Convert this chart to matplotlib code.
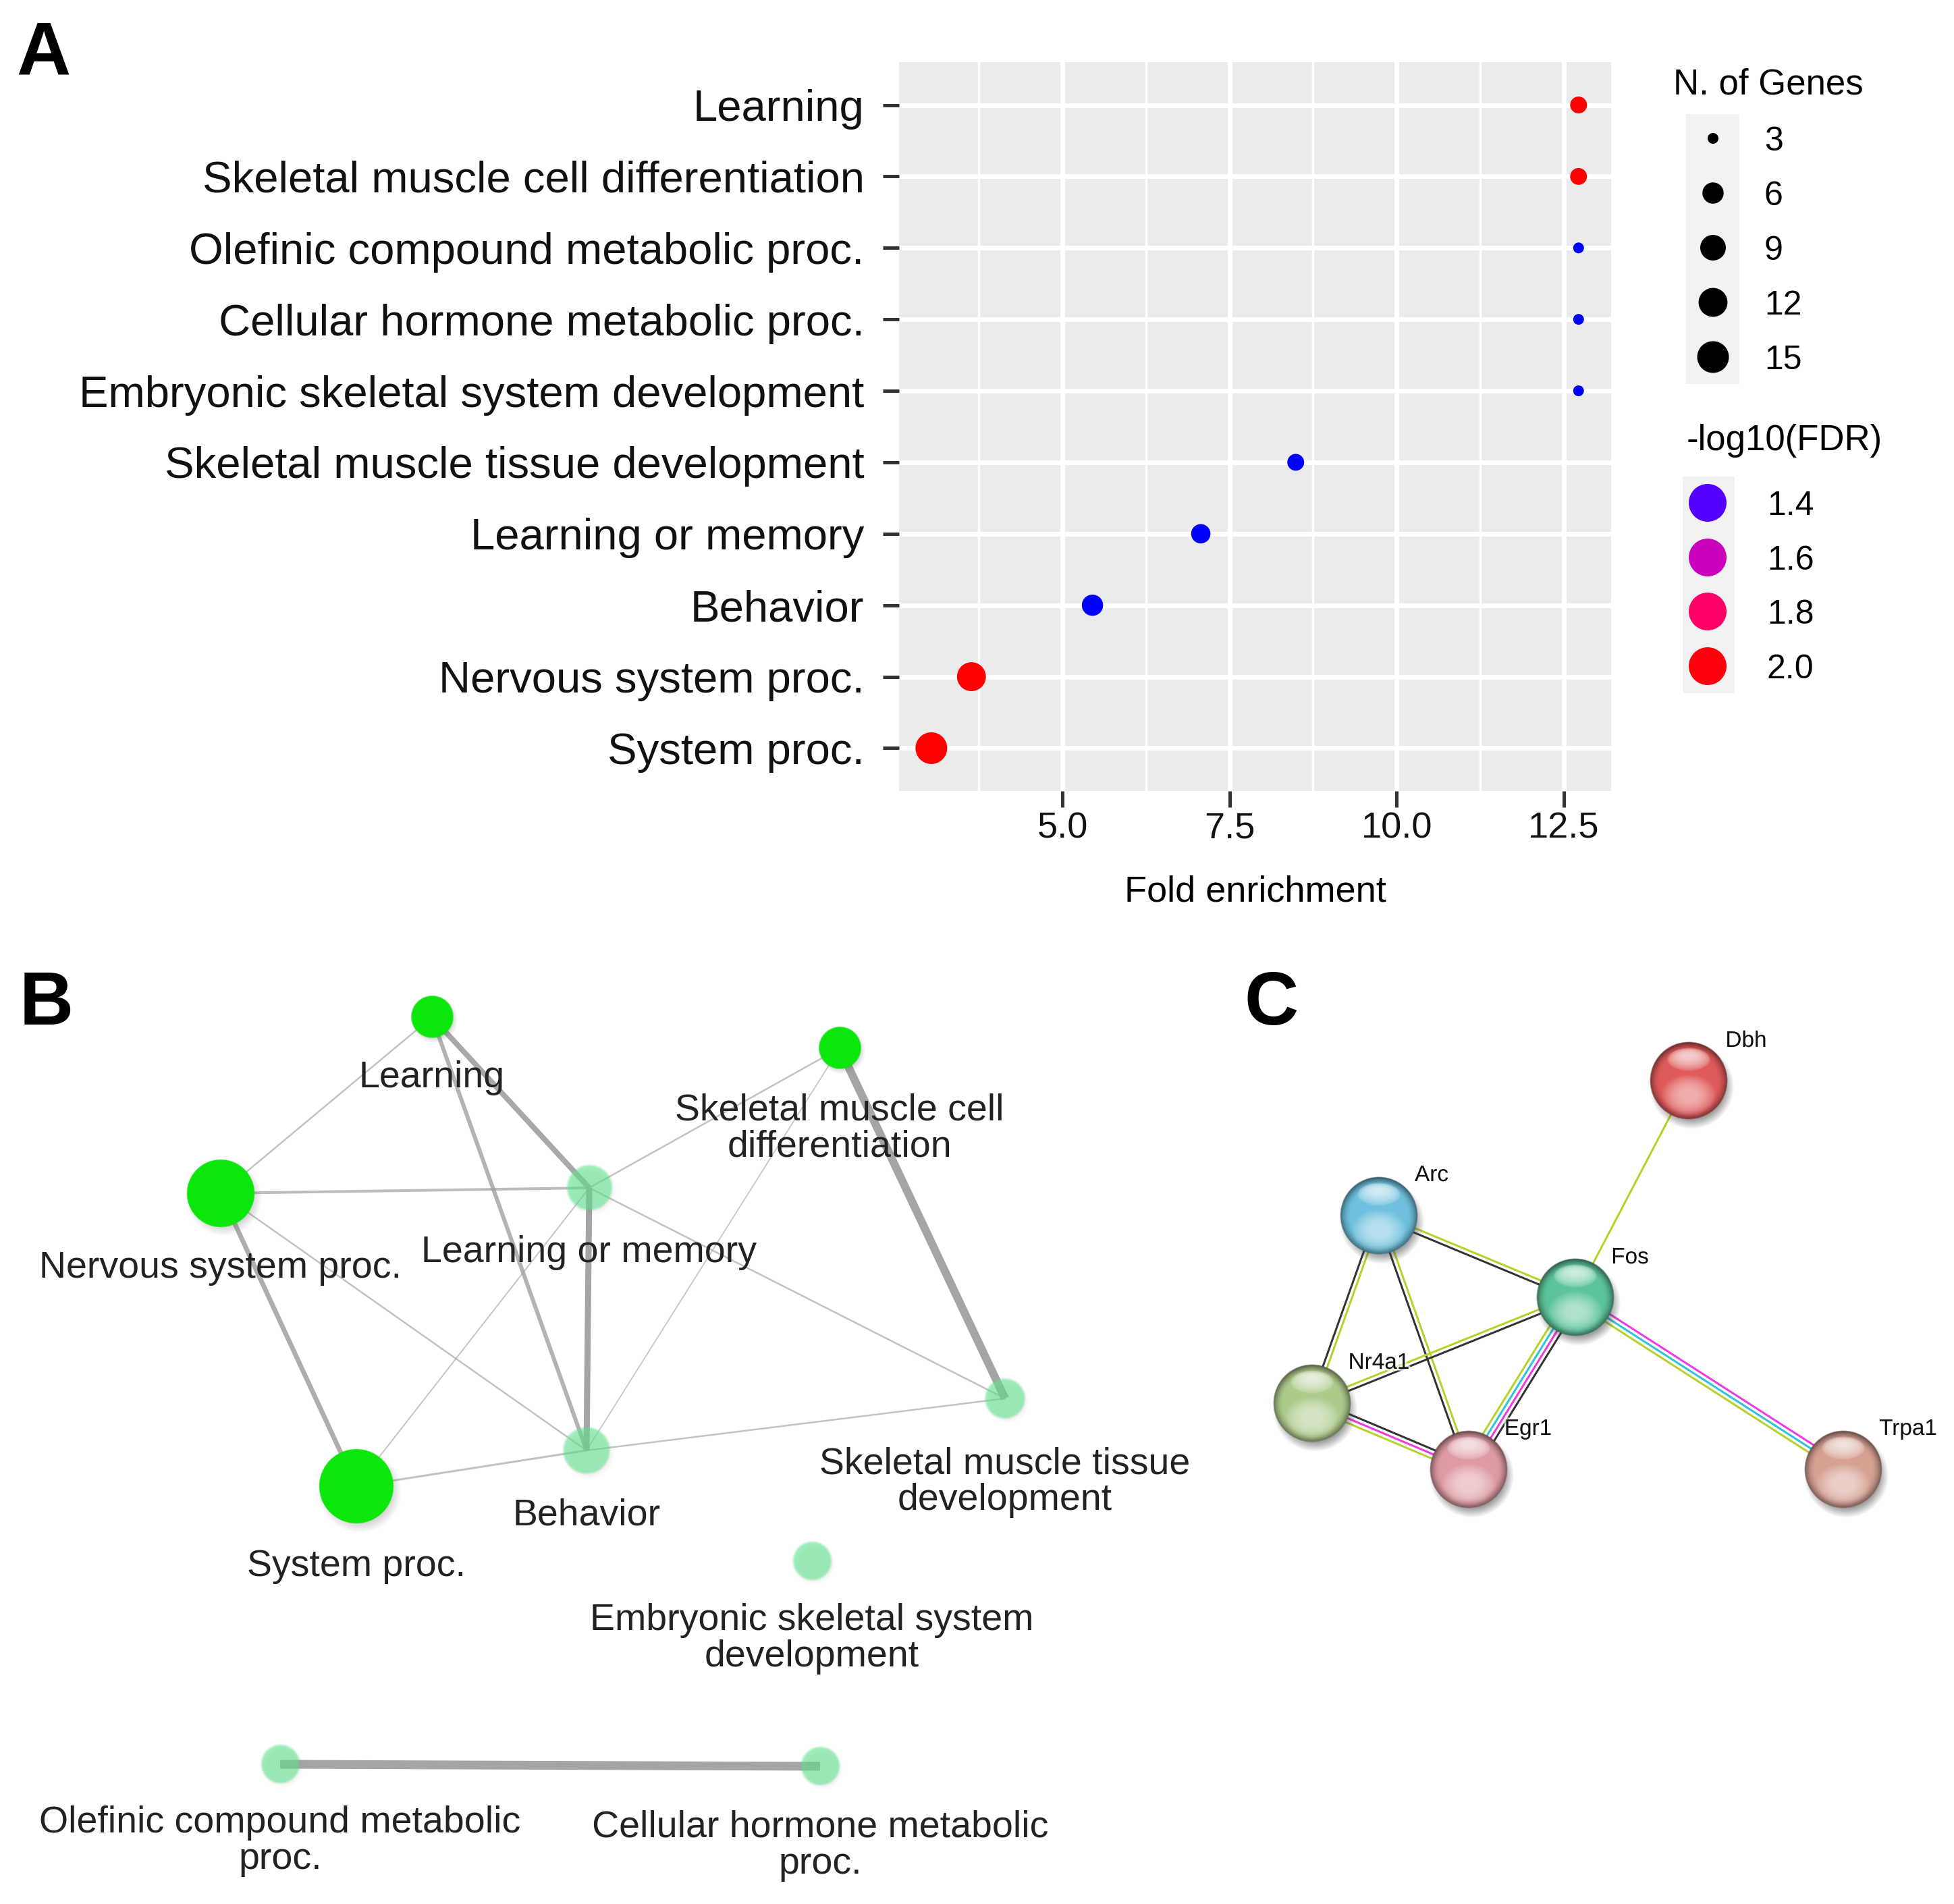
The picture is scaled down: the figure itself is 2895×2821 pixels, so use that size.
import numpy as np
import matplotlib
matplotlib.use("Agg")
import matplotlib.pyplot as plt
from matplotlib.colors import LinearSegmentedColormap, to_rgb
import matplotlib.patheffects as pe

plt.rcParams['font.family'] = ['Liberation Sans', 'DejaVu Sans']

# ---------------- Panel A data ----------------
terms = ['Learning', 'Skeletal muscle cell differentiation', 'Olefinic compound metabolic proc.',
         'Cellular hormone metabolic proc.', 'Embryonic skeletal system development',
         'Skeletal muscle tissue development', 'Learning or memory', 'Behavior',
         'Nervous system proc.', 'System proc.']
fold = [12.72, 12.72, 12.72, 12.72, 12.72, 8.49, 7.07, 5.45, 3.64, 3.04]
genes = [4, 4, 3, 3, 3, 4, 5, 6, 12, 15]
fdr = [2.03, 2.03, 1.33, 1.33, 1.33, 1.33, 1.33, 1.33, 2.03, 2.03]
size_breaks = [3, 6, 9, 12, 15]
color_breaks = [1.4, 1.6, 1.8, 2.0]
x_ticks = [5.0, 7.5, 10.0, 12.5]
x_tick_labels = ['5.0', '7.5', '10.0', '12.5']
x_minor = [3.75, 6.25, 8.75, 11.25]

# colour scale anchors
cs_vals = [1.33, 1.4, 1.6, 1.8, 2.03]
cs_cols = ['#0000FF', '#5500FF', '#CC00BB', '#FF0066', '#FF0000']

# ---------------- Panel B data ----------------
b_labels = ['Learning', 'Skeletal muscle cell\ndifferentiation', 'Nervous system proc.',
            'Learning or memory', 'Behavior', 'System proc.',
            'Skeletal muscle tissue\ndevelopment', 'Embryonic skeletal system\ndevelopment',
            'Olefinic compound metabolic\nproc.', 'Cellular hormone metabolic\nproc.']
b_x = [640, 1244, 327, 873, 869, 528, 1489, 1203, 415, 1215]
b_y = [1507, 1553, 1768, 1760, 2149, 2202, 2072, 2313, 2614, 2617]
b_r = [31, 31, 50, 33, 34, 55, 29, 28, 28, 28]
b_bright = [1, 1, 1, 0, 0, 1, 0, 0, 0, 0]
b_lab_y = [1592, 1641, 1874, 1851, 2240, 2316, 2164, 2396, 2696, 2703]
b_edges = [(0, 2, 2.5), (0, 3, 8.0), (0, 4, 6.0), (2, 3, 4.0), (2, 5, 7.0), (2, 4, 2.5),
           (3, 4, 9.0), (3, 1, 2.5), (3, 6, 2.5), (3, 5, 2.0), (1, 4, 1.8), (1, 6, 12.0),
           (5, 4, 3.0), (4, 6, 2.5), (8, 9, 13.0)]

# ---------------- Panel C data ----------------
c_genes = ['Dbh', 'Arc', 'Fos', 'Nr4a1', 'Egr1', 'Trpa1']
c_x = [2502, 2043, 2334, 1944, 2176, 2731]
c_y = [1601, 1801, 1922, 2079, 2177, 2177]
c_cols = ['#E05A5A', '#6EC0DE', '#5CC49A', '#AECB8C', '#DE9AA2', '#D6A092']
c_lab_x = [2587, 2121, 2415, 2043, 2264, 2827]
c_lab_y = [1539, 1738, 1860, 2016, 2114, 2114]
G, CY, M, K = '#B5D22A', '#2FC3DB', '#EE3ADF', '#333333'
c_edges = [(0, 2, [G]), (1, 2, [G, K]), (1, 3, [G, K]), (1, 4, [G, K]), (3, 2, [G, K]),
           (2, 4, [K, M, CY, G]), (2, 5, [M, CY, G]), (3, 4, [K, M, G])]
c_radius = 57

W, H = 2895, 2821
fig = plt.figure(figsize=(W / 100, H / 100), dpi=100)
PX = 0.72  # points per pixel

ov = fig.add_axes([0, 0, 1, 1])
ov.set_xlim(0, W)
ov.set_ylim(H, 0)
ov.axis('off')
ov.patch.set_alpha(0)

# panel letters
for letter, lx, ly in [('A', 24, 111), ('B', 29, 1518), ('C', 1843, 1518)]:
    ov.text(lx, ly, letter, fontsize=80, fontweight='bold', ha='left', va='baseline', color='black')

# ---------------- Panel A ----------------
def diam_px(n):
    n = np.asarray(n, dtype=float)
    return 16 + 31 * np.sqrt((n - 3) / 12)

pos = [(v - cs_vals[0]) / (cs_vals[-1] - cs_vals[0]) for v in cs_vals]
cmap = LinearSegmentedColormap.from_list('fdr', list(zip(pos, cs_cols)))
norm = plt.Normalize(cs_vals[0], cs_vals[-1])

L, R, T, B = 1332, 2387, 92, 1172
axA = fig.add_axes([L / W, 1 - B / H, (R - L) / W, (B - T) / H])
axA.set_facecolor('#EBEBEB')
yidx = np.arange(len(terms))
axA.scatter(fold, yidx, s=(diam_px(genes) * PX) ** 2, c=fdr, cmap=cmap, norm=norm,
            linewidths=0, zorder=3)
axA.set_xlim(2.557, 13.207)
axA.set_ylim(len(terms) - 0.4, -0.6)
axA.set_yticks(yidx)
axA.set_yticklabels(terms)
axA.set_xticks(x_ticks)
axA.set_xticklabels(x_tick_labels)
axA.set_xticks(x_minor, minor=True)
axA.grid(which='major', color='white', lw=5)
axA.grid(which='minor', axis='x', color='white', lw=2.5)
axA.set_axisbelow(True)
for s in axA.spines.values():
    s.set_visible(False)
axA.tick_params(which='minor', length=0)
axA.tick_params(which='major', length=17, width=3.6, color='#333333')
axA.tick_params(axis='y', labelsize=47, pad=20, labelcolor='#111111')
axA.tick_params(axis='x', labelsize=39, pad=5, labelcolor='#111111')
ov.text((L + R) / 2, 1335, 'Fold enrichment', fontsize=39, ha='center', va='baseline')

# legends
ov.add_patch(plt.Rectangle((2498, 169), 79, 400, color='#F2F2F2', lw=0, zorder=1))
ov.text(2479, 139, 'N. of Genes', fontsize=38, ha='left', va='baseline')
size_key_y = [205, 286, 367, 448, 529]
ov.scatter([2538] * len(size_breaks), size_key_y, s=(diam_px(size_breaks) * PX) ** 2,
           color='black', linewidths=0, zorder=2)
for yy, lab in zip(size_key_y, size_breaks):
    ov.text(2614, yy + 18, str(lab), fontsize=36, ha='left', va='baseline')

ov.add_patch(plt.Rectangle((2493, 706), 77, 321, color='#F2F2F2', lw=0, zorder=1))
ov.text(2499, 667, '-log10(FDR)', fontsize=38, ha='left', va='baseline')
col_key_y = [745, 826, 906, 987]
ov.scatter([2530] * len(color_breaks), col_key_y, s=(56 * PX) ** 2, c=color_breaks,
           cmap=cmap, norm=norm, linewidths=0, zorder=2)
for yy, lab in zip(col_key_y, color_breaks):
    ov.text(2618, yy + 18, f'{lab:.1f}', fontsize=36, ha='left', va='baseline')

# ---------------- Panel B ----------------
def disc_img(r, color, alpha, shadow=0.25, soft=1.5):
    pad = 1.4
    n = int(2 * pad * r)
    c = (np.arange(n) + 0.5) / n * 2 * pad - pad
    U, V = np.meshgrid(c, c)
    rho = np.sqrt(U ** 2 + V ** 2)
    a_body = np.clip((1 - rho) * r / soft + 0.5, 0, 1) * alpha
    rs = np.sqrt((U - 0.10) ** 2 + (V - 0.14) ** 2)
    a_sh = shadow * np.clip((1.12 - rs) / 0.3, 0, 1)
    base = np.array(to_rgb(color))
    out_a = a_body + a_sh * (1 - a_body)
    rgb = (base[None, None, :] * a_body[..., None] + 0.35 * (a_sh * (1 - a_body))[..., None]) / np.maximum(out_a, 1e-6)[..., None]
    return np.dstack([rgb, out_a]), pad * r

for i, j, w in b_edges:
    a = min(0.5 + 0.05 * w, 0.95)
    ov.plot([b_x[i], b_x[j]], [b_y[i], b_y[j]], color='#A0A0A0', alpha=a,
            lw=w * PX, solid_capstyle='butt', zorder=2)

for k in range(len(b_labels)):
    if b_bright[k]:
        img, ext = disc_img(b_r[k], '#0BE60B', 1.0, 0.28)
    else:
        img, ext = disc_img(b_r[k], '#5FE38E', 0.6, 0.10, soft=4)
    ov.imshow(img, extent=(b_x[k] - ext, b_x[k] + ext, b_y[k] + ext, b_y[k] - ext),
              zorder=3, interpolation='bilinear')
    for li, line in enumerate(b_labels[k].split('\n')):
        ov.text(b_x[k], b_lab_y[k] + 19 + li * 54, line, fontsize=40, ha='center',
                va='baseline', color='#222222', zorder=5)

# ---------------- Panel C ----------------
def sphere_img(r, color):
    pad = 1.35
    n = int(2 * pad * r)
    c = (np.arange(n) + 0.5) / n * 2 * pad - pad
    U, V = np.meshgrid(c, c)
    rho = np.sqrt(U ** 2 + V ** 2)
    base = np.array(to_rgb(color))
    col = np.ones(U.shape + (3,)) * base
    dark = np.clip((rho - 0.72) / 0.28, 0, 1) ** 2 * (0.45 + 0.15 * np.clip(-V, 0, 1))
    col = col * (1 - dark[..., None])
    glow = np.clip(0.55 * (1 - ((U / 0.72) ** 2 + ((V - 0.38) / 0.55) ** 2)), 0, 0.5)
    col = col + (1 - col) * glow[..., None]
    e = (U / 0.56) ** 2 + ((V + 0.55) / 0.30) ** 2
    spec = np.clip(1 - e, 0, 1) ** 0.5 * (0.92 - 0.55 * np.clip((V + 0.85) / 0.6, 0, 1))
    col = col * (1 - spec[..., None]) + spec[..., None]
    a_body = np.clip((1 - rho) * r / 1.5 + 0.5, 0, 1)
    rs = np.sqrt((U - 0.08) ** 2 + (V - 0.16) ** 2)
    a_sh = 0.5 * np.clip((1.1 - rs) / 0.25, 0, 1)
    out_a = a_body + a_sh * (1 - a_body)
    rgb = (col * a_body[..., None] + 0.25 * (a_sh * (1 - a_body))[..., None]) / np.maximum(out_a, 1e-6)[..., None]
    return np.dstack([np.clip(rgb, 0, 1), out_a]), pad * r

spacing = 6.5
for i, j, cols in c_edges:
    x0, y0, x1, y1 = c_x[i], c_y[i], c_x[j], c_y[j]
    d = np.hypot(x1 - x0, y1 - y0)
    px, py = -(y1 - y0) / d, (x1 - x0) / d
    nline = len(cols)
    for m, cc in enumerate(cols):
        off = (m - (nline - 1) / 2) * spacing
        ov.plot([x0 + px * off, x1 + px * off], [y0 + py * off, y1 + py * off],
                color=cc, lw=3 * PX, zorder=2, solid_capstyle='butt')

for k in range(len(c_genes)):
    img, ext = sphere_img(c_radius, c_cols[k])
    ov.imshow(img, extent=(c_x[k] - ext, c_x[k] + ext, c_y[k] + ext, c_y[k] - ext),
              zorder=3, interpolation='bilinear')
    ov.text(c_lab_x[k], c_lab_y[k] + 12, c_genes[k], fontsize=24, ha='center', va='baseline',
            color='#111111', zorder=5,
            path_effects=[pe.withStroke(linewidth=4, foreground='white', alpha=0.7)])

ov.set_xlim(0, W)
ov.set_ylim(H, 0)
fig.savefig('out.png', dpi=100)
